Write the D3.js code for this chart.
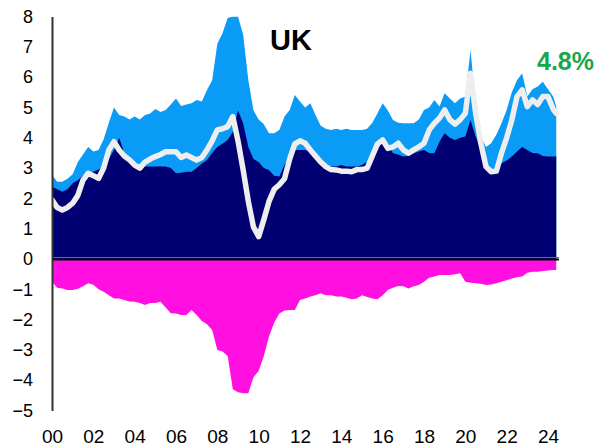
<!DOCTYPE html>
<html>
<head>
<meta charset="utf-8">
<script src="https://cdn.jsdelivr.net/npm/d3@7"></script>
<style>
  body { margin: 0; background: #fff; }
  svg { display: block; font-family: "Liberation Sans", Arial, sans-serif; }
</style>
</head>
<body>
<svg id="chart" width="599" height="447"></svg>
<script>
// Quarterly observations, 2000 Q1 -> 2024 Q2, plus last reading (2024.4)
const dates = d3.range(0, 98).map(i => 2000 + i * 0.25).concat([2024.4]);

// Total (top of light blue band)
const total = [
  2.77, 2.55, 2.55, 2.65,  2.80, 3.20, 3.45, 3.70,  3.55, 3.60, 3.95, 4.50,
  5.00, 4.75, 4.70, 4.60,  4.70, 4.60, 4.75, 4.80,  4.95, 4.85, 4.92, 5.10,
  5.30, 5.05, 5.10, 5.14,  5.25, 5.20, 5.58, 5.90,  7.10, 7.45, 7.95, 8.00,
  8.00, 7.40, 5.90, 4.90,  4.60, 4.45, 4.15, 4.15,  4.26, 4.70, 4.92, 5.41,
  5.20, 5.00, 5.14, 4.75,  4.40, 4.30, 4.26, 4.30,  4.26, 4.30, 4.26, 4.26,
  4.26, 4.30, 4.50, 4.81,  5.14, 4.90, 4.59, 4.50,  4.48, 4.48, 4.48, 4.60,
  4.92, 5.00, 5.25, 5.03,  5.47, 5.30, 5.14, 5.30,  5.36, 6.90, 5.14, 4.04,
  3.70, 3.82, 4.10, 4.48,  4.92, 5.50, 5.90, 6.13,  5.36, 5.60, 5.69, 5.85,
  5.60, 5.36, 5.03
];

// Base component (navy)
const base = [
  2.39, 2.30, 2.22, 2.30,  2.50, 2.60, 2.75, 2.83,  2.88, 2.95, 3.05, 3.30,
  3.60, 4.00, 3.50, 3.27,  3.15, 3.05, 3.05, 3.05,  3.05, 3.05, 3.05, 3.00,
  2.83, 2.85, 2.88, 2.88,  3.00, 3.15, 3.27, 3.50,  3.70, 3.80, 3.93, 4.20,
  4.90, 4.48, 3.70, 3.30,  3.20, 3.00, 2.94, 2.75,  2.72, 3.10, 3.40, 3.60,
  3.60, 3.60, 3.54, 3.40,  3.27, 3.15, 3.05, 3.05,  3.10, 3.05, 3.05, 3.05,
  3.10, 3.21, 3.40, 3.60,  3.93, 3.80, 3.49, 3.45,  3.38, 3.40, 3.49, 3.55,
  3.60, 3.50, 3.49, 3.87,  4.15, 4.00, 3.93, 4.00,  4.04, 4.59, 4.04, 3.60,
  3.05, 2.98, 2.94, 3.16,  3.25, 3.38, 3.55, 3.70,  3.60, 3.50, 3.49, 3.40,
  3.38, 3.38, 3.38
];

// Headline rate (white line)
const headline = [
  1.95, 1.70, 1.62, 1.70,  1.84, 2.10, 2.60, 2.83,  2.75, 2.66, 3.00, 3.60,
  3.87, 3.60, 3.40, 3.27,  3.10, 3.00, 3.20, 3.30,  3.38, 3.45, 3.54, 3.54,
  3.54, 3.35, 3.43, 3.35,  3.27, 3.35, 3.60, 3.90,  4.26, 4.30, 4.37, 4.70,
  3.90, 2.94, 1.90, 1.05,  0.74, 1.30, 1.90, 2.30,  2.45, 2.65, 3.30, 3.80,
  3.90, 3.82, 3.60, 3.40,  3.20, 3.05, 2.95, 2.94,  2.90, 2.90, 2.88, 2.95,
  2.95, 3.00, 3.40, 3.80,  3.93, 3.65, 3.70, 3.82,  3.60, 3.49, 3.60, 3.70,
  3.82, 4.26, 4.48, 4.65,  4.92, 4.60, 4.45, 4.60,  4.81, 6.13, 4.81, 3.82,
  3.05, 2.88, 2.90, 3.50,  4.00, 4.59, 5.36, 5.58,  5.03, 5.25, 5.10, 5.36,
  5.36, 4.95, 4.81
];

// Negative component (magenta)
const negative = [
  -0.75, -0.95, -0.97, -1.02,  -1.02, -0.98, -0.90, -0.80,  -0.85, -1.00, -1.08, -1.20,
  -1.30, -1.30, -1.35, -1.40,  -1.41, -1.45, -1.52, -1.45,  -1.45, -1.41, -1.60, -1.79,
  -1.80, -1.85, -1.85, -1.68,  -1.85, -2.05, -2.15, -2.34,  -3.00, -3.05, -3.20, -4.30,
  -4.40, -4.43, -4.43, -3.90,  -3.70, -3.20, -2.56, -2.10,  -1.80, -1.70, -1.68, -1.68,
  -1.35, -1.30, -1.24, -1.20,  -1.13, -1.20, -1.20, -1.24,  -1.24, -1.28, -1.33, -1.30,
  -1.20, -1.25, -1.30, -1.33,  -1.20, -1.02, -0.95, -0.89,  -0.90, -0.97, -0.90, -0.86,
  -0.75, -0.62, -0.58, -0.53,  -0.53, -0.53, -0.50, -0.47,  -0.75, -0.78, -0.80, -0.82,
  -0.86, -0.84, -0.80, -0.75,  -0.70, -0.64, -0.60, -0.58,  -0.45, -0.42, -0.42, -0.40,
  -0.38, -0.36, -0.36
];

const xTicks = d3.range(2000, 2025, 2);
const yTicks = d3.range(-5, 9, 1);
const titleText = "UK";
const lastLabel = "4.8%";

// Couleurs
const colorBase = "#000073";
const colorTotal = "#0a9bf6";
const colorNeg = "#ff0fe0";
const colorLine = "#eeeeee";
const colorGreen = "#16a84a";

const svg = d3.select("#chart");

const x = d3.scaleLinear().domain([2000, 2024]).range([52, 548]);
const y = d3.scaleLinear().domain([-5, 8]).range([410.5, 16.6]);

// Clip so the 2009 peak is cut at 8
svg.append("clipPath").attr("id", "plotClip")
  .append("rect").attr("x", 52).attr("y", y(8)).attr("width", 520).attr("height", y(-5) - y(8));

const plot = svg.append("g").attr("clip-path", "url(#plotClip)");

const rows = dates.map((d, i) => ({ d: d, total: total[i], base: base[i], line: headline[i], neg: negative[i] }));

// Light blue band (drawn from zero, navy goes over it)
plot.append("path")
  .datum(rows)
  .attr("fill", colorTotal)
  .attr("d", d3.area().x(r => x(r.d)).y0(y(0)).y1(r => y(r.total)));

plot.append("path")
  .datum(rows)
  .attr("fill", colorBase)
  .attr("d", d3.area().x(r => x(r.d)).y0(y(0)).y1(r => y(r.base)));

plot.append("path")
  .datum(rows)
  .attr("fill", colorNeg)
  .attr("d", d3.area().x(r => x(r.d)).y0(y(0)).y1(r => y(r.neg)));

// White headline line
plot.append("path")
  .datum(rows)
  .attr("fill", "none")
  .attr("stroke", colorLine)
  .attr("stroke-width", 5.5)
  .attr("stroke-linejoin", "round")
  .attr("stroke-linecap", "round")
  .attr("d", d3.line().x(r => x(r.d)).y(r => y(r.line)));

// Zero line
svg.append("line")
  .attr("x1", 52).attr("x2", 559)
  .attr("y1", y(0) - 1.5).attr("y2", y(0) - 1.5)
  .attr("stroke", colorNeg).attr("stroke-width", 1);
svg.append("line")
  .attr("x1", 52).attr("x2", 559)
  .attr("y1", y(0) + 0.5).attr("y2", y(0) + 0.5)
  .attr("stroke", "#000").attr("stroke-width", 2);

// Y axis
const yAxis = svg.append("g")
  .attr("transform", "translate(52,0)")
  .call(d3.axisLeft(y).tickValues(yTicks).tickSize(0).tickPadding(19).tickFormat(d3.format("d")));
yAxis.select(".domain").attr("stroke", "#333").attr("stroke-width", 2);
yAxis.selectAll("text")
  .attr("font-size", "18px")
  .attr("fill", "#000")
  .attr("font-family", "Liberation Sans, Arial, sans-serif");

// X axis (labels only)
const xAxis = svg.append("g")
  .attr("transform", "translate(0,410)")
  .call(d3.axisBottom(x).tickValues(xTicks).tickSize(0).tickPadding(20)
    .tickFormat(d => String(d % 100).padStart(2, "0")));
xAxis.select(".domain").remove();
xAxis.selectAll("text")
  .attr("font-size", "19px")
  .attr("fill", "#000")
  .attr("font-family", "Liberation Sans, Arial, sans-serif");

// Titre et dernier point
svg.append("text")
  .attr("x", 270).attr("y", 50)
  .attr("font-size", "29px")
  .attr("font-weight", "bold")
  .text(titleText);

svg.append("text")
  .attr("x", 537).attr("y", 69.5)
  .attr("font-size", "25px")
  .attr("font-weight", "bold")
  .attr("fill", colorGreen)
  .text(lastLabel);
</script>
</body>
</html>
